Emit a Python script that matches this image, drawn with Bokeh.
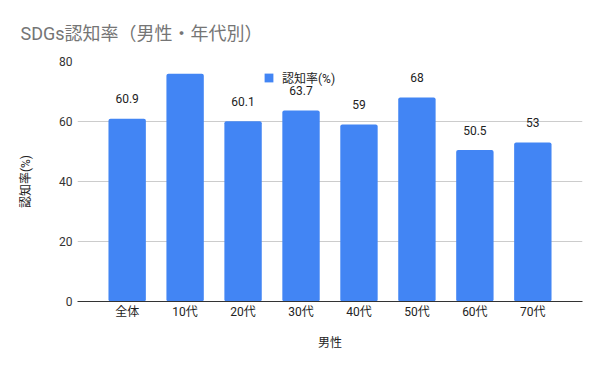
from bokeh.plotting import figure
from bokeh.models import ColumnDataSource, LabelSet, Title, Legend, LegendItem, FactorRange, Range1d
from bokeh.core.properties import value
from bokeh.embed import file_html
from bokeh.resources import INLINE

categories = ["全体", "10代", "20代", "30代", "40代", "50代", "60代", "70代"]
values = [60.9, 75.9, 60.1, 63.7, 59, 68, 50.5, 53]
value_labels = ["60.9", "75.9", "60.1", "63.7", "59", "68", "50.5", "53"]
y_ticks = [0, 20, 40, 60, 80]

FONT = "Roboto, 'Noto Sans CJK JP', sans-serif"
BLUE = "#4285F4"

src = ColumnDataSource(dict(cat=categories, val=values, lab=value_labels))

p = figure(width=600, height=371, output_backend="svg", toolbar_location=None,
           x_range=FactorRange(*categories, range_padding=0.357, range_padding_units="absolute"),
           y_range=Range1d(0, 80),
           min_border_left=77, min_border_right=18, min_border_top=61, min_border_bottom=70)

r = p.vbar(x="cat", top="val", width=0.645, source=src, fill_color=BLUE, line_color=None,
           border_radius=2)

labels = LabelSet(x="cat", y="val", text="lab", source=src, y_offset=20,
                  text_align="center", text_baseline="middle",
                  text_font=value(FONT), text_font_size=value("12px"), text_color="#222222")
p.add_layout(labels)

p.outline_line_color = None
p.xgrid.grid_line_color = None
p.ygrid.grid_line_color = "#cccccc"
p.yaxis.ticker = y_ticks
p.yaxis.axis_line_color = None
p.yaxis.major_tick_line_color = None
p.yaxis.minor_tick_line_color = None
p.yaxis.major_tick_out = 0
p.yaxis.major_tick_in = 0
p.yaxis.major_label_standoff = 5
p.yaxis.major_label_text_font = FONT
p.yaxis.major_label_text_font_size = "12px"
p.yaxis.major_label_text_color = "#333333"
p.yaxis.axis_label = "認知率(%)"
p.yaxis.axis_label_text_font = FONT
p.yaxis.axis_label_text_font_size = "12px"
p.yaxis.axis_label_text_font_style = "normal"
p.yaxis.axis_label_text_color = "#222222"
p.yaxis.axis_label_standoff = 23

p.xaxis.axis_line_color = "#333333"
p.xaxis.major_tick_line_color = None
p.xaxis.minor_tick_line_color = None
p.xaxis.major_tick_out = 0
p.xaxis.major_tick_in = 0
p.xaxis.major_label_standoff = 3
p.xaxis.major_label_text_font = FONT
p.xaxis.major_label_text_font_size = "12px"
p.xaxis.major_label_text_color = "#222222"
p.xaxis.axis_label = "男性"
p.xaxis.axis_label_text_font = FONT
p.xaxis.axis_label_text_font_size = "12px"
p.xaxis.axis_label_text_font_style = "normal"
p.xaxis.axis_label_text_color = "#222222"
p.xaxis.axis_label_standoff = 14

legend = Legend(items=[LegendItem(label="認知率(%)", renderers=[r])],
                location=(186, 215), orientation="horizontal",
                border_line_color=None, background_fill_alpha=0,
                label_text_font=FONT, label_text_font_size="12px", label_text_color="#222222",
                glyph_width=11, glyph_height=11, label_standoff=8, margin=0, padding=0)
p.add_layout(legend)

title = Title(text="SDGs認知率（男性・年代別）", align="left", offset=-57,
              text_font=FONT, text_font_size="18px", text_font_style="normal",
              text_color="#757575", standoff=36)
p.add_layout(title, "above")

open("out.html", "w").write(file_html(p, INLINE))
